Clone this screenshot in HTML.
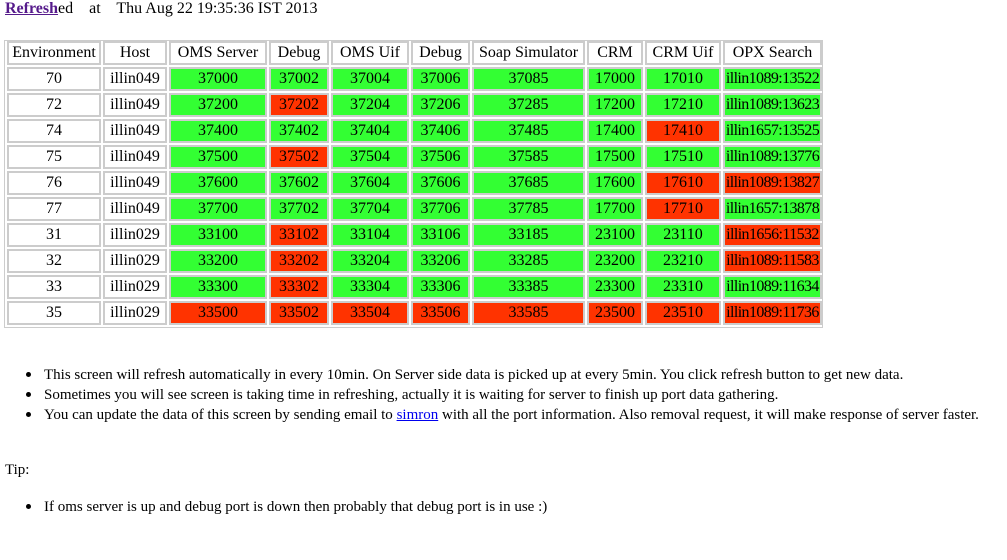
<!DOCTYPE html>
<html><head><meta charset="utf-8">
<style>
body{margin:0;width:1007px;height:560px;background:#fff;font-family:"Liberation Serif",serif;font-size:15px;color:#000;position:relative;overflow:hidden}
.abs{position:absolute;white-space:nowrap}
#tbl{position:absolute;left:4px;top:40px;width:819px;height:288px;border:1px solid #ccc;box-sizing:border-box}
.cell{position:absolute;box-sizing:border-box;border:2px solid #ccc;text-align:center;line-height:20px;height:24px;white-space:nowrap;overflow:hidden;font-size:16px}
a{color:#00e}
.li{position:absolute;left:44px;white-space:nowrap}
.dot{position:absolute;left:26px;width:5px;height:5px;border-radius:50%;background:#000}
</style></head><body>
<div class="abs" style="left:5px;top:0px;font-size:16px"><a href="#" style="color:#551a8b;font-weight:bold">Refresh</a>ed &nbsp;&nbsp; at &nbsp;&nbsp; Thu Aug 22 19:35:36 IST 2013</div>
<div id="tbl"></div>

<div class="dot" style="top:372px"></div><div class="li" style="top:367px">This screen will refresh automatically in every 10min. On Server side data is picked up at every 5min. You click refresh button to get new data.</div>
<div class="dot" style="top:392px"></div><div class="li" style="top:387px">Sometimes you will see screen is taking time in refreshing, actually it is waiting for server to finish up port data gathering.</div>
<div class="dot" style="top:412px"></div><div class="li" style="top:407px">You can update the data of this screen by sending email to <a href="#">simron</a> with all the port information. Also removal request, it will make response of server faster.</div>
<div class="abs" style="left:5px;top:462px">Tip:</div>
<div class="dot" style="top:504px"></div><div class="li" style="top:499px">If oms server is up and debug port is down then probably that debug port is in use :)</div>

<script>
const headers=["Environment","Host","OMS Server","Debug","OMS Uif","Debug","Soap Simulator","CRM","CRM Uif","OPX Search"];
const envs=["70","72","74","75","76","77","31","32","33","35"];
const hosts=["illin049","illin049","illin049","illin049","illin049","illin049","illin029","illin029","illin029","illin029"];
const oms=[37000,37200,37400,37500,37600,37700,33100,33200,33300,33500];
const crm=[17000,17200,17400,17500,17600,17700,23100,23200,23300,23500];
const opx=["illin1089:13522","illin1089:13623","illin1657:13525","illin1089:13776","illin1089:13827","illin1657:13878","illin1656:11532","illin1089:11583","illin1089:11634","illin1089:11736"];
// status: 1=up(green),0=down(red) for OMS,Debug,OMSUif,Debug,Soap,CRM,CRMUif,OPX
const status=[
"11111111","10111111","11111101","10111111","11111100",
"11111101","10111110","10111110","10111111","00000000"];
const colL=[7,103,169,269,331,411,472,587,645,723];
const colR=[101,167,267,329,409,470,585,643,721,822];
const tbl=document.body;
function mk(txt,col,row,bg,name){
  const d=document.createElement('div');
  d.className='cell';
  d.style.left=colL[col]+'px';
  d.style.width=(colR[col]-colL[col])+'px';
  d.style.top=(41+row*26)+'px';
  if(bg)d.style.background=bg;
  if(col===9&&row>0)d.style.letterSpacing='-0.6px';
  d.textContent=txt;
  
  
  tbl.appendChild(d);
}
headers.forEach((h,i)=>mk(h,i,0,null,'header-'+h.toLowerCase().replace(/ /g,'-')));
envs.forEach((e,r)=>{
  const b=oms[r],c=crm[r];
  const vals=[e,hosts[r],b,b+2,b+4,b+6,b+85,c,c+10,opx[r]];
  vals.forEach((v,i)=>{
    let bg=null;
    if(i>=2)bg=status[r][i-2]==='1'?'#33ff33':'#ff3300';
    mk(String(v),i,r+1,bg,'cell-env'+e+'-col'+i);
  });
});
</script>
</body></html>
